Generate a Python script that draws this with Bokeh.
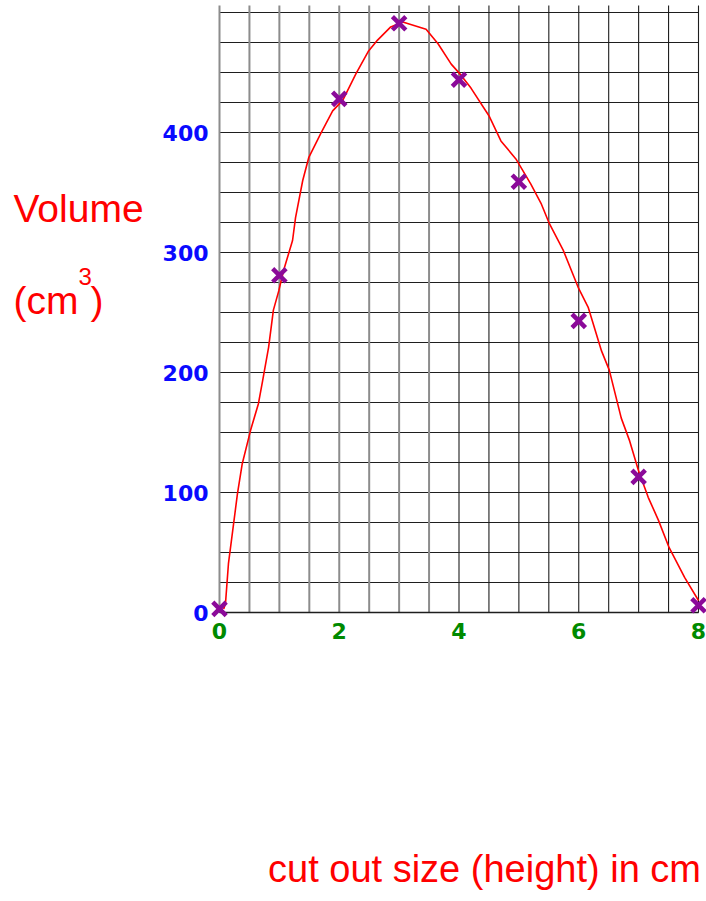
import numpy as np
from bokeh.plotting import figure
from bokeh.models import Range1d, Label
from bokeh.core.properties import value
from bokeh.embed import file_html
from bokeh.resources import INLINE

# Measured volumes of the open box for each cut-out height
heights = [0, 1, 2, 3, 4, 5, 6, 7, 8]
volumes = [3, 281, 428, 491, 444, 359, 243, 113, 6]

# Freehand curve of best fit, traced point by point
curve_x = [0.07, 0.10, 0.15, 0.22, 0.30, 0.38, 0.52, 0.65, 0.72, 0.82, 0.90, 0.99,
           1.07, 1.22, 1.27, 1.39, 1.49, 1.69, 1.89, 2.06, 2.28, 2.49, 2.64, 2.86,
           3.06, 3.45, 3.65, 3.87, 4.03, 4.20, 4.50, 4.70, 4.95, 5.20, 5.37, 5.51,
           5.74, 5.99, 6.16, 6.38, 6.51, 6.71, 6.85, 7.00, 7.16, 7.33, 7.51, 7.77, 8.00]
curve_y = [3, 7.5, 41, 68, 99, 124, 152, 174, 193, 221, 252, 268,
           285, 310, 329, 360, 379, 399, 418, 427, 449, 468, 477, 488,
           492, 486, 474, 457, 448, 437, 414, 393, 378, 357, 341, 324,
           302, 271, 254, 218, 202, 162, 143, 118, 96, 77, 54, 29, 10]

# Hand-written tick labels
x_ticks = [0, 2, 4, 6, 8]
x_tick_labels = ["0", "2", "4", "6", "8"]
y_ticks = [0, 100, 200, 300, 400]
y_tick_labels = ["0", "100", "200", "300", "400"]

# Graph-paper extent
X_MAX = 8
Y_TOP = 505.8

W, H = 706, 901
PX_PER_X = 59.875   # pixels per cm on the x axis
PX_PER_Y = 1.2      # pixels per cm^3 on the y axis
X0_PX, Y0_PX = 219, 612

p = figure(width=W, height=H, output_backend="svg", toolbar_location=None,
           x_axis_location=None, y_axis_location=None,
           min_border=0, outline_line_color=None,
           x_range=Range1d(-X0_PX / PX_PER_X, (W - X0_PX) / PX_PER_X),
           y_range=Range1d(-(H - Y0_PX) / PX_PER_Y, Y0_PX / PX_PER_Y))
p.grid.visible = False
p.background_fill_color = "white"
p.border_fill_color = "white"

# graph paper: half-cm columns and 25 cm^3 rows
gx = np.arange(0, X_MAX + 0.01, 0.5)
left = gx[gx < 4]
right = gx[gx >= 4]
gy = np.arange(0, 501, 25)
p.segment(x0=0, x1=X_MAX, y0=gy, y1=gy, line_color="#1e1e1e", line_width=1.1)
p.segment(x0=left, x1=left, y0=0, y1=Y_TOP, line_color="#8c8c8c", line_width=2)
p.segment(x0=right, x1=right, y0=0, y1=Y_TOP, line_color="#1e1e1e", line_width=1.1)
p.segment(x0=0, x1=X_MAX, y0=0, y1=0, line_color="#1e1e1e", line_width=1.5)

# curve and plotted points
p.line(curve_x, curve_y, line_color="#ff0000", line_width=1.6)
p.scatter(heights, volumes, marker="x", size=19, line_width=4.5, line_color="#8b0a99")

# tick labels
p.text(x=0, y=y_ticks, text=y_tick_labels, x_offset=-11,
       text_align="right", text_baseline="middle",
       text_font=value("DejaVu Sans"), text_font_style="bold",
       text_font_size="22px", text_color="#0a0aff")
p.text(x=x_ticks, y=0, text=x_tick_labels, y_offset=18,
       text_align="center", text_baseline="middle",
       text_font=value("DejaVu Sans"), text_font_style="bold",
       text_font_size="22px", text_color="#008a00")

font = "Liberation Sans"
red = "#ff0000"
p.add_layout(Label(x=13, y=H - 208, x_units="screen", y_units="screen",
                   text="Volume", text_font=font, text_font_size="39px",
                   text_color=red, text_baseline="alphabetic"))
p.add_layout(Label(x=13, y=H - 300, x_units="screen", y_units="screen",
                   text="(cm", text_font=font, text_font_size="39px",
                   text_color=red, text_baseline="alphabetic"))
p.add_layout(Label(x=78, y=H - 276, x_units="screen", y_units="screen",
                   text="3", text_font=font, text_font_size="24px",
                   text_color=red, text_baseline="alphabetic"))
p.add_layout(Label(x=90, y=H - 300, x_units="screen", y_units="screen",
                   text=")", text_font=font, text_font_size="39px",
                   text_color=red, text_baseline="alphabetic"))
p.add_layout(Label(x=484, y=H - 868, x_units="screen", y_units="screen",
                   text="cut out size (height) in cm", text_font=font,
                   text_font_size="38px", text_color=red,
                   text_align="center", text_baseline="middle"))

open("out.html", "w").write(file_html(p, INLINE))
